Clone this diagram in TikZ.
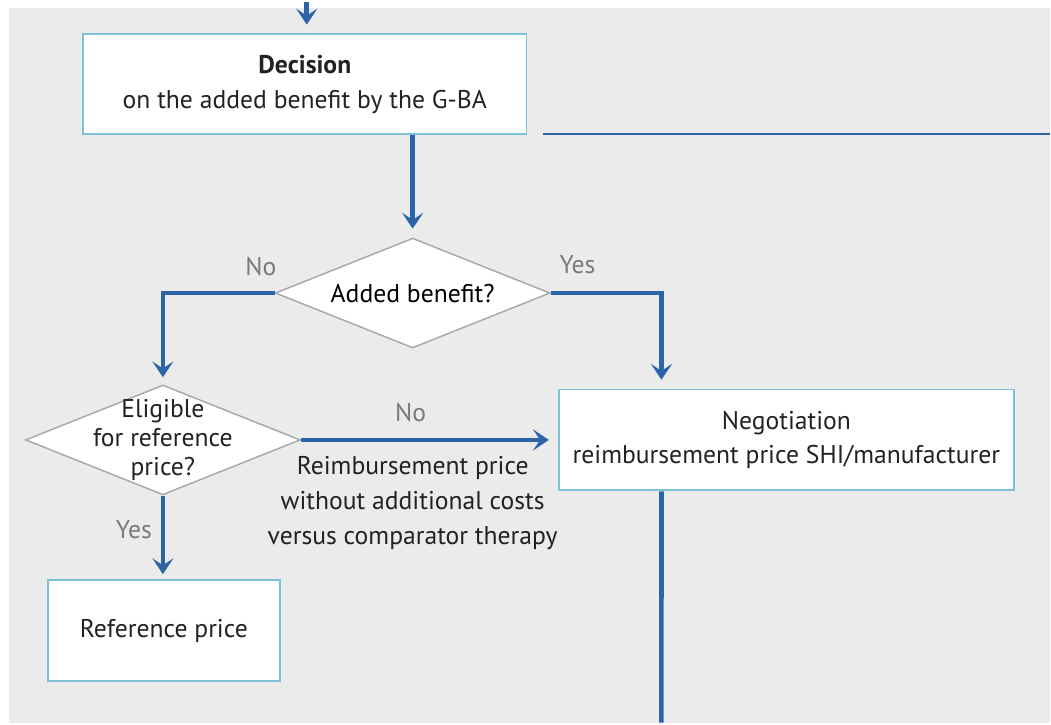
\documentclass[tikz,border=0pt]{standalone}
\usepackage{fontspec}
\setmainfont{PT Sans}
\usetikzlibrary{arrows.meta,shapes.geometric}

\definecolor{flowblue}{HTML}{2B64A8}
\definecolor{boxline}{HTML}{7DC0D8}
\definecolor{bggrey}{HTML}{EBEBEB}
\definecolor{answergrey}{HTML}{7A7A7A}
\definecolor{textdark}{HTML}{222222}

\tikzset{
    stepbox/.style={draw=boxline, line width=1.1pt, fill=white, align=center,
        text=textdark, inner sep=0pt},
    choice/.style={diamond, draw=gray!70, line width=0.8pt, fill=white,
        inner sep=0pt, shape aspect=2.5, minimum width=5.5cm, minimum height=2.2cm},
    flow/.style={draw=flowblue, line width=2.6pt,
        -{Stealth[length=9pt, width=12pt, inset=4pt]}},
    answer/.style={text=answergrey},
    note/.style={text=textdark, align=center}
}

\begin{document}
\begin{tikzpicture}[x=0.02cm, y=-0.02cm, font=\fontsize{14.6}{19.8}\selectfont]
        % page and grey panel
        \fill[white] (0, 0) rectangle (1051, 721);
        \fill[bggrey] (9, 6) rectangle (1051, 721);

        \node[stepbox, minimum width=8.88cm, minimum height=2cm] (decision) at (305, 82)
            {\textbf{Decision}\\on the added benefit by the G-BA};
        \node[choice] (benefit) at (413, 291) {Added benefit?};
        \node[choice, label={[note, font=\fontsize{14.6}{16.4}\selectfont]center:Eligible\\for reference\\price?}]
            (elig) at (163, 438) {};
        \node[stepbox, minimum width=9.12cm, minimum height=2.02cm] (nego) at (787, 438)
            {Negotiation\\reimbursement price SHI/manufacturer};
        \node[stepbox, minimum width=4.64cm, minimum height=2.02cm] (refprice) at (164, 629)
            {Reference price};

        \node[answer] (benefitno) at (261, 264) {No};
        \node[answer] (benefityes) at (578, 263) {Yes};
        \node[answer] (eligno) at (411, 411) {No};
        \node[answer] (eligyes) at (134, 528) {Yes};
        \node[note] (reimb) at (413, 501)
            {Reimbursement price\\without additional costs\\versus comparator therapy};

        \coordinate (incoming) at (307, 0);
        \coordinate (outgoing) at (662, 721);
        \coordinate (sidestart) at (543, 132);
        \coordinate (sideend) at (1051, 132);

        \draw[flow, shorten >=5pt] (incoming) -- (incoming |- decision.north);
        \draw[flow, shorten >=5pt] (decision.south -| benefit.north) -- (benefit.north);
        \draw[flow, shorten >=4pt] (benefit.west) -| (elig.north);
        \draw[flow, shorten >=5pt] (benefit.east) -| ([xshift=-2.5cm]nego.north);
        \draw[flow, shorten >=5pt] (elig.east) -- (nego.west);
        \draw[flow, shorten >=3pt] (elig.south) -- (refprice.north -| elig.south);
        \draw[draw=flowblue, line width=2.6pt] ([xshift=-2.5cm]nego.south) -- (outgoing);
        \draw[draw=flowblue, line width=1pt] (sidestart) -- (sideend);
    \end{tikzpicture}
\end{document}
